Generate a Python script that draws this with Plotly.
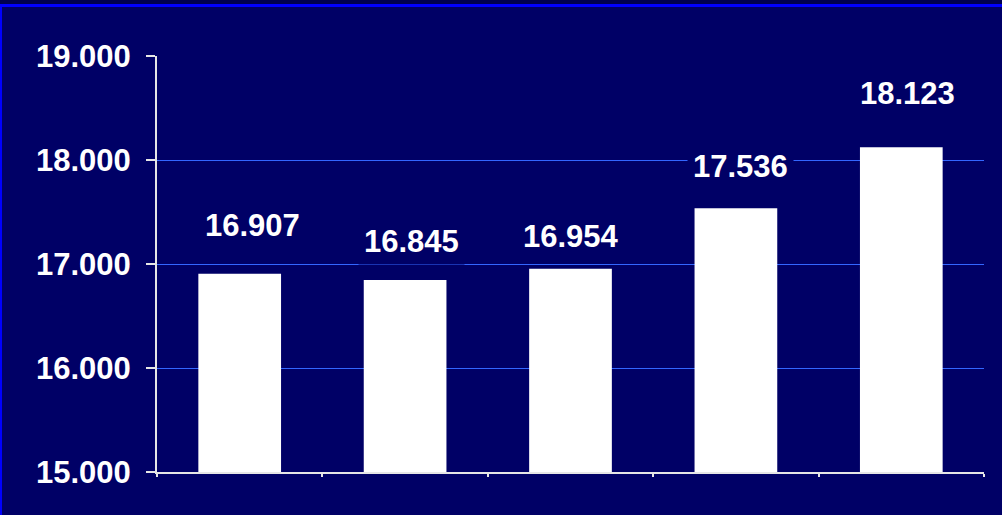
import plotly.graph_objects as go

# categories are not labelled in the picture
periods = ["P1", "P2", "P3", "P4", "P5"]
values = [16907, 16845, 16954, 17536, 18123]
y_ticks = [15000, 16000, 17000, 18000, 19000]

NAVY = "#000066"
W, H = 1002, 515
L, R, T, B = 157, 18, 56, 43


def px_x(p):
    return (p - L) / (W - L - R)


def px_y(p):
    return (H - B - p) / (H - T - B)


def fmt(v):
    return f"{v:,}".replace(",", ".")


bold = dict(family="Liberation Sans, Arial", size=31, color="white", weight="bold")

fig = go.Figure()
fig.add_trace(go.Bar(x=periods, y=values, width=0.5,
                     marker=dict(color="white", line=dict(width=0)),
                     hoverinfo="skip"))

# data labels were nudged by hand in the original, so each gets its own offset
lift = [48, 39, 32, 42, 54]
nudge = [13, 6, 0, 5, 6]
for cat, v, dy, dx in zip(periods, values, lift, nudge):
    fig.add_annotation(x=cat, y=v, text=fmt(v), showarrow=False,
                       yanchor="middle", yshift=dy, xshift=dx,
                       bgcolor=NAVY, borderpad=5, font=bold)

shapes = [
    dict(type="rect", xref="paper", yref="paper", x0=px_x(-5), x1=px_x(W + 5),
         y0=px_y(4), y1=px_y(-5), fillcolor="#00004f", line=dict(width=0), layer="below"),
    dict(type="rect", xref="paper", yref="paper", x0=px_x(-5), x1=px_x(W + 5),
         y0=px_y(7), y1=px_y(4), fillcolor="#0000ff", line=dict(width=0), layer="above"),
    dict(type="rect", xref="paper", yref="paper", x0=px_x(-5), x1=px_x(2),
         y0=px_y(H + 5), y1=px_y(4), fillcolor="#0000ff", line=dict(width=0), layer="above"),
]

fig.update_layout(
    width=W, height=H,
    margin=dict(l=L, r=R, t=T, b=B, pad=0),
    paper_bgcolor=NAVY, plot_bgcolor=NAVY,
    separators=",.",
    showlegend=False,
    shapes=shapes,
    font=dict(family="Liberation Sans, Arial", color="white"),
    xaxis=dict(type="category", range=[-0.5, 4.5], showticklabels=False,
               showgrid=False, automargin=False,
               showline=True, linecolor="#e6e6e6", linewidth=2,
               ticks="outside", tickson="boundaries", ticklen=3,
               tickcolor="#e6e6e6", tickwidth=2, zeroline=False),
    yaxis=dict(range=[15000, 19000], tickvals=y_ticks, tickformat=",.0f",
               showgrid=True, gridcolor="#3366ff", gridwidth=1,
               showline=True, linecolor="#e6e6e6", linewidth=2,
               ticks="outside", ticklen=9, tickcolor="#e6e6e6", tickwidth=2,
               zeroline=False, automargin=False,
               tickfont=bold, ticklabelstandoff=9),
)

fig.write_html("out.html", config={"displayModeBar": False},
               post_script="document.body.style.margin='0';"
                           "document.body.style.background='#000066';")
